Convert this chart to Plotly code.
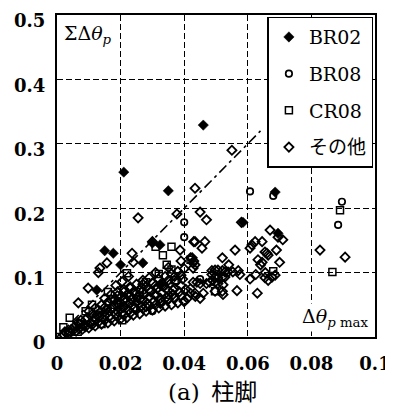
import plotly.graph_objects as go

# ---------------- data ----------------
br02_x = [0.021, 0.035, 0.046, 0.0686, 0.0585, 0.015, 0.0177, 0.020, 0.0125, 0.027, 0.0324, 0.0324, 0.0695, 0.030]
br02_y = [0.256, 0.227, 0.329, 0.225, 0.178, 0.134, 0.130, 0.112, 0.073, 0.115, 0.143, 0.081, 0.161, 0.146]

br08_x = [0.0896, 0.0884, 0.040, 0.040, 0.0607, 0.068, 0.012, 0.025, 0.030, 0.045, 0.016, 0.035, 0.019, 0.027]
br08_y = [0.210, 0.174, 0.178, 0.155, 0.226, 0.219, 0.030, 0.060, 0.040, 0.090, 0.045, 0.065, 0.056, 0.072]

cr08_x = [0.089, 0.0866, 0.068, 0.0497, 0.036, 0.0333, 0.0345, 0.031, 0.022, 0.000, 0.0035, 0.0065,
          0.002, 0.004, 0.0205, 0.009, 0.014, 0.018, 0.026, 0.036, 0.037, 0.028, 0.011, 0.024, 0.042,
          0.0075, 0.016, 0.032]
cr08_y = [0.197, 0.101, 0.102, 0.071, 0.140, 0.127, 0.112, 0.140, 0.099, 0.000, 0.008, 0.008,
          0.015, 0.030, 0.026, 0.040, 0.020, 0.050, 0.070, 0.105, 0.088, 0.085, 0.050, 0.045, 0.120,
          0.020, 0.070, 0.098]

other_x = [
    # sparse upper points
    0.0255, 0.030, 0.0387, 0.043, 0.043, 0.0236, 0.0157, 0.013, 0.0135, 0.024, 0.0098, 0.0067,
    0.045, 0.047, 0.058, 0.0434, 0.0465, 0.0456, 0.042, 0.0434, 0.052, 0.056, 0.054, 0.055, 0.0434, 0.0377,
    # right group
    0.0607, 0.0613, 0.0623, 0.0607, 0.063, 0.0632, 0.0645, 0.064, 0.066, 0.0664, 0.0654, 0.0645,
    0.067, 0.0695, 0.071, 0.069, 0.070, 0.0654, 0.0664, 0.0676, 0.0686, 0.0827, 0.0906, 0.0625, 0.0655,
    # middle group
    0.0487, 0.0497, 0.0506, 0.052, 0.0528, 0.0538, 0.0553, 0.057, 0.0575, 0.0487, 0.0497, 0.0506,
    0.052, 0.0528, 0.049, 0.0497, 0.048, 0.047, 0.0506, 0.0522, 0.052, 0.0522, 0.0497, 0.0566,
    0.046, 0.045, 0.0428, 0.044, 0.045, 0.042, 0.042, 0.0434, 0.0425, 0.0428, 0.0428, 0.041, 0.040, 0.0435,
    # dense wedge
    0.002, 0.0025,
    0.004, 0.0045,
    0.006, 0.0055, 0.0065,
    0.008, 0.0085, 0.0075,
    0.010, 0.0105, 0.0095, 0.0100,
    0.012, 0.0115, 0.0125, 0.0120,
    0.014, 0.0145, 0.0135, 0.0140, 0.0150,
    0.016, 0.0165, 0.0155, 0.0160, 0.0170,
    0.018, 0.0185, 0.0175, 0.0180, 0.0190, 0.0185,
    0.020, 0.0205, 0.0195, 0.0200, 0.0210, 0.0205,
    0.022, 0.0225, 0.0215, 0.0220, 0.0230, 0.0225,
    0.024, 0.0245, 0.0235, 0.0240, 0.0250,
    0.026, 0.0265, 0.0255, 0.0260, 0.0270,
    0.028, 0.0285, 0.0275, 0.0280, 0.0290,
    0.030, 0.0305, 0.0295, 0.0300, 0.0310,
    0.032, 0.0325, 0.0315, 0.0320,
    0.034, 0.0345, 0.0335, 0.0340, 0.0350,
    0.036, 0.0365, 0.0355, 0.0360,
    0.038, 0.0385, 0.0375, 0.0380, 0.0390,
    0.040, 0.0405, 0.0395, 0.0400,
    0.0135, 0.0200, 0.0260, 0.0310, 0.0365, 0.0325, 0.0215, 0.0280, 0.0190, 0.0330,
    # extra wedge fill
    0.003, 0.005, 0.007, 0.007, 0.009, 0.009, 0.011, 0.011, 0.013, 0.013,
    0.015, 0.015, 0.015, 0.017, 0.017, 0.017, 0.019, 0.019, 0.019,
    0.021, 0.021, 0.021, 0.021, 0.023, 0.023, 0.023, 0.023, 0.025, 0.025, 0.025,
    0.027, 0.027, 0.027, 0.029, 0.029, 0.029, 0.031, 0.031, 0.031, 0.033, 0.033, 0.033,
    0.035, 0.035, 0.035, 0.037, 0.037, 0.037, 0.039, 0.039, 0.039,
]
other_y = [
    # sparse upper points
    0.185, 0.148, 0.135, 0.148, 0.118, 0.130, 0.115, 0.100, 0.107, 0.116, 0.076, 0.053,
    0.194, 0.182, 0.178, 0.148, 0.148, 0.138, 0.123, 0.112, 0.123, 0.135, 0.112, 0.290, 0.231, 0.191,
    # right group
    0.138, 0.143, 0.148, 0.090, 0.068, 0.120, 0.116, 0.112, 0.130, 0.127, 0.132, 0.148,
    0.166, 0.155, 0.151, 0.135, 0.116, 0.092, 0.088, 0.093, 0.096, 0.135, 0.124, 0.097, 0.100,
    # middle group
    0.103, 0.104, 0.104, 0.103, 0.101, 0.101, 0.101, 0.103, 0.097, 0.097, 0.093, 0.092,
    0.093, 0.093, 0.088, 0.085, 0.085, 0.083, 0.083, 0.081, 0.071, 0.066, 0.071, 0.072,
    0.068, 0.060, 0.085, 0.085, 0.083, 0.075, 0.068, 0.068, 0.123, 0.115, 0.107, 0.060, 0.055, 0.063,
    # dense wedge
    0.004, 0.008,
    0.006, 0.012,
    0.009, 0.016, 0.022,
    0.012, 0.018, 0.026,
    0.014, 0.022, 0.030, 0.040,
    0.017, 0.025, 0.034, 0.045,
    0.020, 0.028, 0.038, 0.050, 0.060,
    0.022, 0.032, 0.042, 0.054, 0.066,
    0.025, 0.035, 0.046, 0.058, 0.070, 0.080,
    0.028, 0.038, 0.050, 0.062, 0.074, 0.086,
    0.030, 0.042, 0.054, 0.066, 0.078, 0.094,
    0.034, 0.046, 0.058, 0.070, 0.082,
    0.036, 0.048, 0.062, 0.074, 0.088,
    0.040, 0.052, 0.066, 0.078, 0.092,
    0.042, 0.056, 0.070, 0.084, 0.100,
    0.045, 0.060, 0.075, 0.090,
    0.048, 0.062, 0.078, 0.094, 0.108,
    0.050, 0.066, 0.082, 0.098,
    0.053, 0.070, 0.086, 0.102, 0.118,
    0.056, 0.074, 0.090, 0.106,
    0.033, 0.044, 0.058, 0.064, 0.073, 0.052, 0.060, 0.047, 0.040, 0.080,
    # extra wedge fill
    0.006, 0.010, 0.013, 0.020, 0.016, 0.027, 0.019, 0.035, 0.023, 0.042,
    0.026, 0.034, 0.046, 0.028, 0.044, 0.058, 0.031, 0.052, 0.064,
    0.034, 0.046, 0.058, 0.070, 0.037, 0.052, 0.064, 0.076, 0.042, 0.054, 0.068,
    0.044, 0.058, 0.082, 0.048, 0.062, 0.074, 0.050, 0.066, 0.080, 0.054, 0.068, 0.084,
    0.058, 0.072, 0.088, 0.060, 0.076, 0.094, 0.064, 0.080, 0.096,
]

line_x = [0.0, 0.064]
line_y = [0.0, 0.32]

x_ticks = [0, 0.02, 0.04, 0.06, 0.08, 0.1]
x_tick_labels = ["0", "0.02", "0.04", "0.06", "0.08", "0.1"]
y_ticks = [0, 0.1, 0.2, 0.3, 0.4, 0.5]
y_tick_labels = ["0", "0.1", "0.2", "0.3", "0.4", "0.5"]

series_names = ["BR02", "BR08", "CR08", "その他"]

# ---------------- figure ----------------
SERIF = "DejaVu Serif, Noto Sans CJK JP"
fig = go.Figure()

fig.add_trace(go.Scatter(x=line_x, y=line_y, mode="lines", showlegend=False,
                         line=dict(color="black", width=1.6, dash="10px,4px,3px,4px"),
                         hoverinfo="skip"))

fig.add_trace(go.Scatter(x=other_x, y=other_y, mode="markers", name=series_names[3],
                         legendgroup="g4", legendrank=4,
                         marker=dict(symbol="diamond-open", size=7, color="black",
                                     line=dict(width=1.8, color="black"))))
fig.add_trace(go.Scatter(x=cr08_x, y=cr08_y, mode="markers", name=series_names[2],
                         legendgroup="g3", legendrank=3,
                         marker=dict(symbol="square-open", size=7, color="black",
                                     line=dict(width=1.5, color="black"))))
fig.add_trace(go.Scatter(x=br08_x, y=br08_y, mode="markers", name=series_names[1],
                         legendgroup="g2", legendrank=2,
                         marker=dict(symbol="circle-open", size=6.5, color="black",
                                     line=dict(width=1.7, color="black"))))
fig.add_trace(go.Scatter(x=br02_x, y=br02_y, mode="markers", name=series_names[0],
                         legendgroup="g1", legendrank=1,
                         marker=dict(symbol="diamond", size=8, color="black",
                                     line=dict(width=0.5, color="black"))))

axis_common = dict(showline=True, linecolor="black", linewidth=2, mirror=True,
                   showgrid=True, gridcolor="black", gridwidth=1.2, griddash="6px,3px",
                   zeroline=False, ticks="", automargin=False, ticklabeloverflow="allow",
                   tickfont=dict(family=SERIF, size=18, color="black", weight="bold"))

fig.update_xaxes(range=[0, 0.1], tickvals=x_ticks, ticktext=x_tick_labels,
                 ticklabelstandoff=9, **axis_common)
fig.update_yaxes(range=[0, 0.5], tickvals=y_ticks, ticktext=y_tick_labels,
                 ticklabelstandoff=6, ticklabelshift=6, **axis_common)

# the page body adds an 8px offset, so the figure is sized/margined to compensate
fig.update_layout(
    width=385, height=401,
    margin=dict(l=49, r=18, t=7, b=72),
    plot_bgcolor="white", paper_bgcolor="white",
    font=dict(family=SERIF, color="black"),
    legend=dict(x=0.995, y=0.995, xanchor="right", yanchor="top",
                bgcolor="white", bordercolor="black", borderwidth=1.5,
                font=dict(family=SERIF, size=19, color="black"),
                tracegroupgap=9, itemsizing="trace"),
    annotations=[
        dict(x=0.0015, y=0.493, xref="x", yref="y", xanchor="left", yanchor="top",
             text="ΣΔ<i>θ</i><sub><i>p</i></sub>", showarrow=False,
             font=dict(family=SERIF, size=19, color="black"), bgcolor="white"),
        dict(x=0.0985, y=0.008, xref="x", yref="y", xanchor="right", yanchor="bottom",
             text="Δ<i>θ</i><sub><i>p</i> max</sub>", showarrow=False,
             font=dict(family=SERIF, size=19, color="black"), bgcolor="white"),
        dict(x=0.488, y=-0.171, xref="paper", yref="paper", xanchor="center", yanchor="middle",
             text="(a)\u2002柱脚", showarrow=False,
             font=dict(family=SERIF, size=23, color="black")),
    ],
)

fig.write_html("out.html")
